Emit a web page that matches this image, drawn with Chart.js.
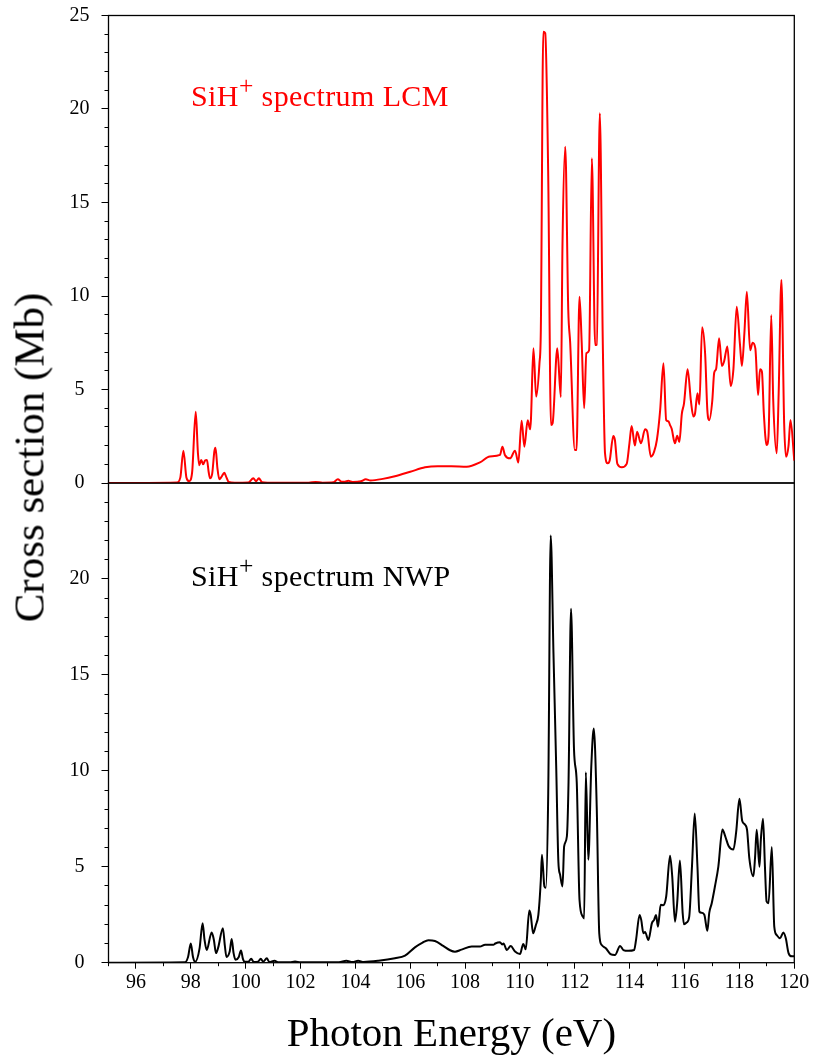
<!DOCTYPE html>
<html>
<head>
<meta charset="utf-8">
<script src="https://cdn.jsdelivr.net/npm/chart.js@4.4.1/dist/chart.umd.min.js"></script>
<style>
  body { margin: 0; background: #fff; }
  #page { position: relative; width: 817px; height: 1060px; overflow: hidden; font-family: "Liberation Serif", serif; }
  canvas { position: absolute; left: 0; }
  #topChart { top: -10px; }
  #bottomChart { top: 458px; }
  .note { position: absolute; left: 191px; font-size: 30px; line-height: 30px; letter-spacing: 0.4px; white-space: nowrap; }
  .note sup { font-size: 0.85em; position: relative; top: -0.05em; line-height: 0; }
  #ylabel { position: absolute; width: 420px; left: -181px; top: 436px; height: 43px; line-height: 43px;
            font-size: 43px; text-align: center; transform: rotate(-90deg); white-space: nowrap; }
</style>
</head>
<body>
<div id="page">
  <canvas id="topChart" width="817" height="518"></canvas>
  <canvas id="bottomChart" width="817" height="602"></canvas>
  <div class="note" style="top:81px;color:#ff0000">SiH<sup>+</sup> spectrum LCM</div>
  <div class="note" style="top:561px;color:#000">SiH<sup>+</sup> spectrum NWP</div>
  <div id="ylabel">Cross section (Mb)</div>
</div>
<script>
// LCM spectrum (top panel)
const lcmEnergy = [
  95, 97.5, 97.62, 97.73, 97.84, 97.94, 98.05, 98.18, 98.26, 98.31,
  98.38, 98.45, 98.52, 98.59, 98.65, 98.7, 98.78, 98.86, 98.9, 98.97,
  99.04, 99.13, 99.22, 99.3, 99.38, 99.6, 100.1, 100.28, 100.38, 100.48,
  100.6, 100.8, 102.3, 102.55, 102.8, 103.2, 103.36, 103.5, 103.62, 103.74,
  103.9, 104.2, 104.38, 104.55, 105.0, 105.44, 106.0, 106.54, 107.0, 107.5,
  108.06, 108.54, 108.9, 109.27, 109.36, 109.45, 109.64, 109.82, 109.94, 110.06,
  110.16, 110.28, 110.37, 110.4, 110.49, 110.59, 110.71, 110.76, 110.85, 110.92,
  111.03, 111.13, 111.19, 111.36, 111.49, 111.55, 111.65, 111.76, 111.83, 112.0,
  112.06, 112.17, 112.25, 112.34, 112.42, 112.52, 112.62, 112.74, 112.8, 112.91,
  113.02, 113.1, 113.2, 113.27, 113.4, 113.46, 113.55, 113.71, 113.89, 113.99,
  114.07, 114.19, 114.27, 114.41, 114.56, 114.64, 114.77, 114.89, 114.99, 115.11,
  115.23, 115.33, 115.41, 115.47, 115.53, 115.65, 115.73, 115.81, 115.9, 115.98,
  116.11, 116.23, 116.32, 116.38, 116.47, 116.54, 116.64, 116.75, 116.83, 116.9,
  117.01, 117.08, 117.15, 117.26, 117.36, 117.44, 117.56, 117.68, 117.78, 117.9,
  118.02, 118.09, 118.18, 118.27, 118.39, 118.48, 118.58, 118.68, 118.75, 118.82,
  118.89, 118.99, 119.06, 119.16, 119.23, 119.36, 119.43, 119.53, 119.63, 119.7,
  119.79, 119.86, 120
];
const lcmSigma = [
  0, 0.03, 0.3, 1.73, 0.3, 0.1, 0.6, 3.81, 1.6, 0.95,
  1.23, 1.0, 1.2, 1.23, 0.6, 0.25, 0.5, 1.7, 1.89, 0.8,
  0.2, 0.35, 0.55, 0.3, 0.06, 0.02, 0.03, 0.25, 0.1, 0.25,
  0.04, 0.02, 0.02, 0.06, 0.02, 0.04, 0.2, 0.07, 0.07, 0.12,
  0.06, 0.09, 0.2, 0.14, 0.22, 0.36, 0.6, 0.84, 0.9, 0.9,
  0.87, 1.1, 1.42, 1.5, 1.94, 1.5, 1.32, 1.73, 1.09, 3.33,
  1.94, 3.35, 2.87, 3.4, 7.2, 4.62, 6.4, 8.18, 24.13, 24.05,
  16.4, 3.1, 3.2, 7.2, 4.6, 12.8, 17.98, 9.25, 7.5, 1.76,
  1.76, 9.96, 7.5, 4.0, 6.94, 7.1, 17.36, 7.38, 7.4, 19.77,
  7.4, 1.59, 1.05, 1.2, 2.51, 2.3, 1.02, 0.84, 1.02, 2.12,
  3.05, 2.0, 2.74, 2.12, 2.87, 2.74, 1.41, 1.68, 2.3, 3.9,
  6.4, 3.36, 3.3, 3.1, 2.9, 2.12, 2.53, 2.2, 3.7, 4.26,
  6.08, 4.4, 3.56, 3.7, 4.8, 4.2, 8.33, 6.9, 3.9, 3.36,
  4.4, 5.9, 6.1, 7.74, 6.26, 6.5, 7.3, 5.19, 6.08, 9.43,
  7.4, 6.26, 8.0, 10.23, 7.1, 7.5, 7.2, 4.7, 6.08, 5.95,
  3.7, 2.03, 2.5, 8.98, 4.5, 1.59, 4.8, 10.86, 3.2, 1.4,
  2.0, 3.37, 1.2
];

// NWP spectrum (bottom panel)
const nwpEnergy = [
  95, 97.79, 97.9, 98.0, 98.08, 98.16, 98.32, 98.43, 98.5, 98.58,
  98.76, 98.84, 98.92, 99.0, 99.17, 99.24, 99.3, 99.42, 99.49, 99.56,
  99.63, 99.75, 99.83, 99.9, 99.97, 100.1, 100.2, 100.3, 100.45, 100.55,
  100.64, 100.77, 100.86, 101.05, 101.2, 101.6, 101.8, 102.0, 103.4, 103.67,
  103.9, 104.1, 104.3, 104.84, 105.44, 105.81, 106.17, 106.45, 106.66, 106.9,
  107.2, 107.45, 107.63, 107.87, 108.24, 108.54, 108.73, 109.03, 109.1, 109.27,
  109.35, 109.4, 109.52, 109.66, 109.82, 110.0, 110.12, 110.21, 110.34, 110.39,
  110.48, 110.58, 110.67, 110.76, 110.8, 110.89, 110.94, 111.03, 111.12, 111.22,
  111.32, 111.4, 111.46, 111.55, 111.61, 111.71, 111.77, 111.86, 111.97, 112.07,
  112.17, 112.29, 112.34, 112.4, 112.49, 112.6, 112.69, 112.8, 112.89, 112.98,
  113.13, 113.3, 113.46, 113.65, 113.77, 113.95, 114.16, 114.23, 114.36, 114.42,
  114.5, 114.56, 114.68, 114.81, 114.89, 114.96, 115.03, 115.13, 115.22, 115.33,
  115.47, 115.55, 115.65, 115.73, 115.83, 115.93, 115.98, 116.08, 116.17, 116.27,
  116.37, 116.47, 116.54, 116.62, 116.72, 116.83, 116.9, 116.99, 117.11, 117.23,
  117.38, 117.48, 117.6, 117.78, 117.88, 118.0, 118.1, 118.2, 118.28, 118.36,
  118.51, 118.57, 118.63, 118.73, 118.78, 118.86, 118.93, 118.99, 119.06, 119.18,
  119.27, 119.36, 119.48, 119.6, 119.69, 119.79, 119.91, 120
];
const nwpSigma = [
  0, 0.02, 0.3, 1.0, 0.3, 0.05, 0.75, 2.06, 1.2, 0.66,
  1.57, 1.2, 0.5, 0.8, 1.8, 0.9, 0.3, 0.6, 1.24, 0.5,
  0.15, 0.3, 0.64, 0.2, 0.05, 0.05, 0.2, 0.03, 0.05, 0.2,
  0.05, 0.23, 0.04, 0.1, 0.02, 0.02, 0.06, 0.02, 0.02, 0.1,
  0.04, 0.1, 0.04, 0.1, 0.23, 0.37, 0.8, 1.05, 1.17, 1.13,
  0.88, 0.65, 0.57, 0.68, 0.84, 0.84, 0.94, 0.93, 1.0, 1.07,
  0.95, 1.0, 0.66, 0.87, 0.58, 0.45, 0.98, 0.7, 2.72, 2.5,
  1.53, 1.97, 2.49, 4.32, 5.63, 3.97, 3.9, 8.86, 22.27, 16.17,
  10.25, 5.25, 4.6, 3.97, 6.06, 6.59, 9.4, 18.44, 11.1, 9.38,
  3.28, 2.4, 2.3, 9.93, 5.37, 10.25, 12.2, 7.98, 1.53, 0.92,
  0.75, 0.45, 0.4, 0.87, 0.66, 0.62, 0.66, 1.18, 2.49, 2.23,
  1.53, 1.6, 1.18, 2.06, 2.23, 2.49, 1.88, 3.02, 3.0, 3.45,
  5.58, 4.5, 2.14, 3.1, 5.33, 2.6, 2.0, 2.1, 2.4, 5.02,
  7.77, 5.0, 2.66, 2.6, 2.5, 1.66, 2.6, 3.1, 4.0, 5.0,
  6.94, 6.6, 6.1, 5.9, 6.8, 8.54, 7.4, 7.2, 6.9, 5.45,
  4.5, 5.5, 6.93, 5.0, 6.4, 7.5, 5.0, 3.19, 3.1, 6.03,
  1.88, 1.44, 1.27, 1.57, 1.27, 0.5, 0.33, 0.33
];

// axis ticks
const energyTicks = [96, 98, 100, 102, 104, 106, 108, 110, 112, 114, 116, 118, 120];
const energyMinorTicks = [95, 96, 97, 98, 99, 100, 101, 102, 103, 104, 105, 106, 107, 108, 109,
  110, 111, 112, 113, 114, 115, 116, 117, 118, 119, 120];
const sigmaTicksTop = [0, 5, 10, 15, 20, 25];
const sigmaTicksBottom = [0, 5, 10, 15, 20];
const sigmaMinorTicks = [0, 1, 2, 3, 4, 5, 6, 7, 8, 9, 10, 11, 12, 13, 14, 15, 16, 17, 18, 19,
  20, 21, 22, 23, 24];

const FONT = 'Liberation Serif';

const framePlugin = {
  id: 'frame',
  beforeDatasetsDraw(chart) {
    const { ctx, chartArea: a } = chart;
    ctx.save();
    ctx.strokeStyle = '#000';
    ctx.lineWidth = 1.3;
    ctx.strokeRect(a.left, a.top, a.right - a.left, a.bottom - a.top);
    ctx.restore();
  }
};

function points(xs, ys) {
  return xs.map((x, i) => ({ x: x, y: ys[i] }));
}

function useTicks(list) {
  return scale => { scale.ticks = list.map(v => ({ value: v })); };
}

function sigmaAxes(majorTicks, minorTicks) {
  return {
    y: {
      type: 'linear', position: 'left', min: 0, max: 25, weight: 1,
      afterBuildTicks: useTicks(majorTicks),
      afterFit: s => { s.width = 108.5; },
      border: { display: false },
      grid: { drawOnChartArea: false, tickLength: 7, tickColor: '#000', tickWidth: 1 },
      ticks: { color: '#000', font: { family: FONT, size: 20 }, padding: 12, crossAlign: 'center', autoSkip: false }
    },
    yMinor: {
      type: 'linear', position: 'left', min: 0, max: 25, weight: 0,
      afterBuildTicks: useTicks(minorTicks),
      afterFit: s => { s.width = 0; },
      border: { display: false },
      grid: { drawOnChartArea: false, tickLength: 4, tickColor: '#000', tickWidth: 1 },
      ticks: { display: false, autoSkip: false }
    }
  };
}

// top panel: LCM
new Chart(document.getElementById('topChart'), {
  type: 'line',
  data: {
    datasets: [{
      data: points(lcmEnergy, lcmSigma),
      borderColor: '#ff0000',
      borderWidth: 2,
      pointRadius: 0,
      cubicInterpolationMode: 'monotone',
      xAxisID: 'x', yAxisID: 'y'
    }]
  },
  options: {
    responsive: false,
    animation: false,
    devicePixelRatio: 1,
    layout: { padding: { top: 25.5, right: 22.7, bottom: 25, left: 0 } },
    plugins: { legend: { display: false }, tooltip: { enabled: false } },
    scales: Object.assign({
      x: { type: 'linear', min: 95, max: 120, display: false }
    }, sigmaAxes(sigmaTicksTop, sigmaMinorTicks.concat([25])))
  },
  plugins: [framePlugin]
});

// bottom panel: NWP
new Chart(document.getElementById('bottomChart'), {
  type: 'line',
  data: {
    datasets: [{
      data: points(nwpEnergy, nwpSigma),
      borderColor: '#000',
      borderWidth: 2,
      pointRadius: 0,
      cubicInterpolationMode: 'monotone',
      xAxisID: 'x', yAxisID: 'y'
    }]
  },
  options: {
    responsive: false,
    animation: false,
    devicePixelRatio: 1,
    layout: { padding: { top: 25, right: 22.7, bottom: 0, left: 0 } },
    plugins: { legend: { display: false }, tooltip: { enabled: false } },
    scales: Object.assign({
      x: {
        type: 'linear', position: 'bottom', min: 95, max: 120, weight: 1,
        afterBuildTicks: useTicks(energyTicks),
        afterFit: s => { s.height = 97.3; },
        border: { display: false },
        grid: { drawOnChartArea: false, tickLength: 6, tickColor: '#000', tickWidth: 1 },
        ticks: { color: '#000', font: { family: FONT, size: 20 }, padding: 2, maxRotation: 0, autoSkip: false },
        title: { display: true, text: 'Photon Energy (eV)', color: '#000', font: { family: FONT, size: 41 }, padding: 0 }
      },
      xMinor: {
        type: 'linear', position: 'bottom', min: 95, max: 120, weight: 0,
        afterBuildTicks: useTicks(energyMinorTicks),
        afterFit: s => { s.height = 0; },
        border: { display: false },
        grid: { drawOnChartArea: false, tickLength: 3.5, tickColor: '#000', tickWidth: 1 },
        ticks: { display: false, autoSkip: false }
      }
    }, sigmaAxes(sigmaTicksBottom, sigmaMinorTicks))
  },
  plugins: [framePlugin]
});
</script>
</body>
</html>
